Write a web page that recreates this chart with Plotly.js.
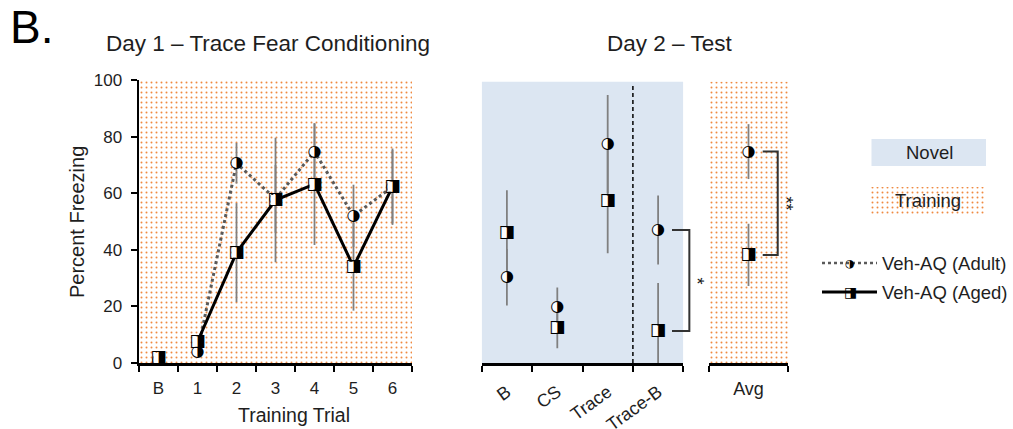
<!DOCTYPE html>
<html><head><meta charset="utf-8">
<script src="https://cdn.plot.ly/plotly-3.0.1.min.js"></script>
<style>html,body{margin:0;padding:0;background:#fff}#chart{width:1013px;height:429px}</style>
</head><body><div id="chart"></div>
<script>
// ---- Day 1: Trace Fear Conditioning ----
const day1Trials = ['B', '1', '2', '3', '4', '5', '6'];
const day1Adult = [1.0, 3.8, 70.6, 58.0, 74.7, 52.0, 62.3];
const day1AdultErr = [0.5, 1.5, 7.2, 12.0, 10.0, 11.0, 13.0];
const day1Aged = [1.8, 7.5, 39.0, 57.6, 63.2, 34.0, 62.3];
const day1AgedErr = [0.8, 2.0, 17.5, 22.0, 21.5, 15.5, 13.5];
// ---- Day 2: Test ----
const testPhases = ['B', 'CS', 'Trace', 'Trace-B'];
const testAdult = [30.3, 19.7, 77.4, 47.0];
const testAdultErr = [10.0, 7.0, 17.3, 12.2];
const testAged = [46.0, 12.5, 57.2, 11.3];
const testAgedErr = [15.0, 7.3, 18.4, 17.0];
// ---- Day 2: Average ----
const avgLabels = ['Avg'];
const avgAdult = [74.7];
const avgAdultErr = [9.7];
const avgAged = [38.2];
const avgAgedErr = [11.0];
// ---- Labels ----
const yTicks = [0, 20, 40, 60, 80, 100];
const seriesNames = ['Veh-AQ (Adult)', 'Veh-AQ (Aged)'];
const bgLabels = ['Novel', 'Training'];
const sigLabels = ['*', '**'];

const W = 1013, H = 429;
const P = px => px / W, Q = py => 1 - py / H;
const idx = a => a.map((_, i) => i);
const bounds = n => Array.from({length: n + 1}, (_, i) => i - 0.5);
const ORANGE = '#f08a40', BLUE = '#dce6f2', ERR = '#808080';
const TXT = '#1e1e1e';
const FONT = 'Liberation Sans, Arial, sans-serif';
const GLYPH = {adult: '\u25D1', aged: '\u25E8'};
const PATTERN = {shape: '.', fgcolor: ORANGE, bgcolor: 'white', size: 5, solidity: 0.12};

function bgPattern(xa, ya, n, ytop) {
  return {type: 'scatter', xaxis: xa, yaxis: ya, mode: 'lines',
    x: [-0.5, n - 0.5, n - 0.5, -0.5, -0.5], y: [0, 0, ytop, ytop, 0],
    fill: 'toself', fillcolor: 'white', line: {width: 0}, fillpattern: PATTERN,
    hoverinfo: 'skip', showlegend: false};
}
function errTrace(xa, ya, xs, ys, err) {
  return {type: 'scatter', xaxis: xa, yaxis: ya, mode: 'markers', x: xs, y: ys,
    marker: {size: 2, opacity: 0},
    error_y: {type: 'data', array: err, visible: true, color: ERR, thickness: 1.8, width: 0},
    hoverinfo: 'skip', showlegend: false};
}
function glyphTrace(xa, ya, xs, ys, kind) {
  const adult = kind === 'adult';
  return {type: 'scatter', xaxis: xa, yaxis: ya, mode: 'markers+text', x: xs, y: ys,
    marker: {symbol: adult ? 'circle' : 'square', color: 'white', size: 10, line: {width: 0}},
    text: xs.map(() => GLYPH[kind]), textposition: 'middle center',
    textfont: {family: 'DejaVu Sans', size: adult ? 16 : 17.5, color: 'black'},
    name: adult ? seriesNames[0] : seriesNames[1], showlegend: false};
}

const d1x = idx(day1Trials), d2x = idx(testPhases), avx = idx(avgLabels);
const traces = [
  bgPattern('x', 'y', day1Trials.length, 100),
  bgPattern('x3', 'y3', avgLabels.length, 99.4),
  errTrace('x', 'y', d1x, day1Adult, day1AdultErr),
  errTrace('x', 'y', d1x, day1Aged, day1AgedErr),
  {type: 'scatter', xaxis: 'x', yaxis: 'y', mode: 'lines', x: d1x.slice(1), y: day1Adult.slice(1),
   line: {color: '#5a5a5a', width: 3, dash: 'dot'}, showlegend: false, hoverinfo: 'skip'},
  {type: 'scatter', xaxis: 'x', yaxis: 'y', mode: 'lines', x: d1x.slice(1), y: day1Aged.slice(1),
   line: {color: 'black', width: 3}, showlegend: false, hoverinfo: 'skip'},
  glyphTrace('x', 'y', d1x, day1Adult, 'adult'),
  glyphTrace('x', 'y', d1x, day1Aged, 'aged'),
  errTrace('x2', 'y2', d2x, testAdult, testAdultErr),
  errTrace('x2', 'y2', d2x, testAged, testAgedErr),
  glyphTrace('x2', 'y2', d2x, testAdult, 'adult'),
  glyphTrace('x2', 'y2', d2x, testAged, 'aged'),
  errTrace('x3', 'y3', avx, avgAdult, avgAdultErr),
  errTrace('x3', 'y3', avx, avgAged, avgAgedErr),
  glyphTrace('x3', 'y3', avx, avgAdult, 'adult'),
  glyphTrace('x3', 'y3', avx, avgAged, 'aged'),
  // Training legend swatch (helper full-figure axes in pixels)
  {type: 'scatter', xaxis: 'x4', yaxis: 'y4', mode: 'lines',
   x: [870, 985, 985, 870, 870], y: [187, 187, 214, 214, 187], fill: 'toself', fillcolor: 'white',
   line: {width: 0}, fillpattern: PATTERN, hoverinfo: 'skip', showlegend: false}
];

const baseX = {showline: true, linecolor: 'black', linewidth: 2.5, showgrid: false, zeroline: false,
  fixedrange: true, tickmode: 'array', ticks: '', ticklabelstandoff: 8,
  tickfont: {family: FONT, size: 17, color: TXT}};
const minorB = n => ({tickmode: 'array', tickvals: bounds(n), ticks: 'outside', ticklen: 6, tickwidth: 2, tickcolor: 'black'});
const yDom = [Q(363), Q(80)];
const hiddenY = {domain: yDom, range: [0, 100], visible: false, fixedrange: true};
const ann = (text, x, y, size, extra) => Object.assign({text, x: P(x), y: Q(y), xref: 'paper', yref: 'paper',
  xanchor: 'center', yanchor: 'middle', showarrow: false, font: {family: FONT, size, color: TXT}}, extra || {});

const layout = {
  width: W, height: H, margin: {l: 0, r: 0, t: 0, b: 0},
  paper_bgcolor: 'white', plot_bgcolor: 'rgba(0,0,0,0)', showlegend: false,
  font: {family: FONT, color: TXT},
  xaxis: Object.assign({}, baseX, {domain: [P(139), P(412)], range: [-0.5, day1Trials.length - 0.5],
    tickvals: d1x, ticktext: day1Trials, minor: minorB(day1Trials.length), anchor: 'y'}),
  yaxis: {domain: yDom, range: [0, 100], tickmode: 'array', tickvals: yTicks, ticks: 'outside', ticklen: 6,
    tickwidth: 2, tickcolor: 'black', showline: true, linecolor: 'black', linewidth: 2.5, showgrid: false,
    zeroline: false, fixedrange: true, ticklabelstandoff: 5,
    tickfont: {family: FONT, size: 17, color: TXT}, anchor: 'x'},
  xaxis2: Object.assign({}, baseX, {domain: [P(481.7), P(683.3)], range: [-0.5, testPhases.length - 0.5],
    tickvals: d2x, ticktext: testPhases, tickangle: -36, ticklabelstandoff: 9,
    tickfont: {family: FONT, size: 18, color: TXT}, minor: minorB(testPhases.length), anchor: 'y2'}),
  yaxis2: Object.assign({}, hiddenY, {anchor: 'x2'}),
  xaxis3: Object.assign({}, baseX, {domain: [P(709), P(788)], range: [-0.5, avgLabels.length - 0.5],
    tickvals: avx, ticktext: avgLabels, tickfont: {family: FONT, size: 18, color: TXT},
    minor: minorB(avgLabels.length), anchor: 'y3'}),
  yaxis3: Object.assign({}, hiddenY, {anchor: 'x3'}),
  xaxis4: {domain: [0, 1], range: [0, W], visible: false, fixedrange: true, anchor: 'y4'},
  yaxis4: {domain: [0, 1], range: [H, 0], visible: false, fixedrange: true, anchor: 'x4'},
  shapes: [
    {type: 'rect', xref: 'x2', yref: 'y2', x0: -0.5, x1: testPhases.length - 0.5, y0: 0, y1: 99.4,
     fillcolor: BLUE, line: {width: 0}, layer: 'below'},
    {type: 'line', xref: 'x2', yref: 'y2', x0: 2.5, x1: 2.5, y0: 0, y1: 98.2,
     line: {color: 'black', width: 1.5, dash: '4px,3px'}},
    {type: 'path', xref: 'x2 domain', yref: 'y2',
     path: `M 0.944 ${testAdult[3]} L 1.03 ${testAdult[3]} L 1.03 ${testAged[3]} L 0.944 ${testAged[3]}`,
     line: {color: '#333', width: 2}},
    {type: 'path', xref: 'x3', yref: 'y3',
     path: `M 0.18 ${avgAdult[0]} L 0.37 ${avgAdult[0]} L 0.37 ${avgAged[0]} L 0.18 ${avgAged[0]}`,
     line: {color: '#333', width: 2}},
    {type: 'rect', xref: 'paper', yref: 'paper', x0: P(871.5), x1: P(986), y0: Q(166), y1: Q(139),
     fillcolor: BLUE, line: {width: 0}},
    {type: 'line', xref: 'paper', yref: 'paper', x0: P(822), x1: P(877), y0: Q(263), y1: Q(263),
     line: {color: '#5a5a5a', width: 2.5, dash: 'dot'}},
    {type: 'line', xref: 'paper', yref: 'paper', x0: P(822), x1: P(877), y0: Q(292), y1: Q(292),
     line: {color: 'black', width: 3}}
  ],
  annotations: [
    ann('B.', 8, 27, 46, {xanchor: 'left', font: {family: FONT, size: 46, color: 'black'}}),
    ann('Day 1 \u2013 Trace Fear Conditioning', 268, 44, 22.5),
    ann('Day 2 \u2013 Test', 669, 44, 22.5),
    ann('Training Trial', 294, 415, 19.5),
    ann('Percent Freezing', 77, 222, 20, {textangle: -90}),
    ann(bgLabels[0], 929, 152, 18.5),
    ann(bgLabels[1], 928, 200, 18.5),
    ann(seriesNames[0], 880, 263, 18.5, {xanchor: 'left'}),
    ann(seriesNames[1], 880, 292, 18.5, {xanchor: 'left'}),
    ann(GLYPH.adult, 849.5, 263, 11, {font: {family: 'DejaVu Sans', size: 11, color: 'black'}}),
    ann(GLYPH.aged, 850, 292, 14, {font: {family: 'DejaVu Sans', size: 14, color: 'black'}}),
    {text: sigLabels[0], x: P(697), y: (testAdult[3] + testAged[3]) / 2, xref: 'paper', yref: 'y2', textangle: 90,
     xanchor: 'center', yanchor: 'middle', showarrow: false, font: {family: FONT, size: 18, color: TXT}},
    {text: sigLabels[1], x: 0.47, y: (avgAdult[0] + avgAged[0]) / 2, xref: 'x3', yref: 'y3', textangle: 90,
     xanchor: 'center', yanchor: 'middle', showarrow: false, font: {family: FONT, size: 18, color: TXT}}
  ]
};

Plotly.newPlot('chart', traces, layout, {staticPlot: true, displayModeBar: false});
</script></body></html>
